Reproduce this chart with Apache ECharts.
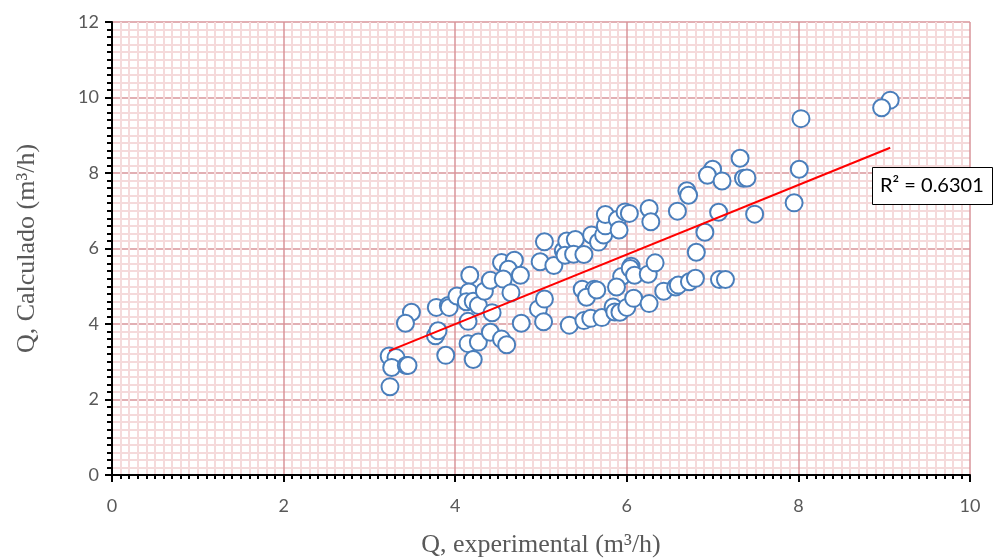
<!DOCTYPE html>
<html>
<head>
<meta charset="utf-8">
<script src="https://cdn.jsdelivr.net/npm/echarts@6/dist/echarts.min.js"></script>
<style>html,body{margin:0;padding:0;background:#fff}#c{width:996px;height:559px}</style>
</head>
<body>
<div id="c"></div>
<script>
// Q experimental (m3/h)
const qExp = [3.23,3.31,3.26,3.43,3.45,3.24,3.49,3.42,3.78,3.92,3.93,4.02,3.77,3.80,3.89,4.15,4.15,4.27,4.21,4.17,
  4.16,4.13,4.21,4.27,4.34,4.41,4.43,4.41,4.54,4.60,4.54,4.69,4.62,4.56,4.76,4.65,4.77,4.99,4.97,5.03,
  5.04,5.04,5.15,5.26,5.30,5.40,5.28,5.38,5.50,5.59,5.67,5.73,5.75,5.75,5.89,5.91,5.98,6.03,6.26,6.28,
  6.59,6.70,6.72,5.48,5.62,5.53,5.65,5.94,6.05,6.04,6.09,6.25,6.33,6.81,5.33,5.50,5.58,5.71,5.84,5.86,
  5.92,6.00,6.08,5.88,6.26,6.43,6.57,6.60,6.73,6.80,7.08,7.15,9.07,8.97,8.03,8.01,7.95,7.32,7.00,6.94,
  7.11,7.36,7.40,7.07,7.49,6.91];
// Q calculado (m3/h)
const qCalc = [3.15,3.11,2.85,2.90,2.90,2.34,4.31,4.02,4.44,4.49,4.44,4.74,3.69,3.82,3.17,4.07,3.48,3.52,3.06,5.29,
  4.85,4.59,4.60,4.49,4.87,5.16,4.30,3.78,3.60,3.45,5.63,5.69,5.45,5.19,5.29,4.83,4.02,5.65,4.40,4.06,
  6.18,4.66,5.55,5.94,6.20,6.24,5.82,5.85,5.84,6.36,6.17,6.36,6.60,6.90,6.77,6.49,6.97,6.93,7.06,6.71,
  6.99,7.53,7.41,4.92,4.92,4.71,4.90,5.26,5.53,5.47,5.29,5.32,5.62,5.90,3.97,4.09,4.15,4.17,4.45,4.32,
  4.31,4.44,4.68,4.98,4.54,4.87,4.98,5.03,5.12,5.21,5.18,5.18,9.93,9.73,9.44,8.10,7.21,8.39,8.10,7.94,
  7.79,7.86,7.87,6.96,6.91,6.43];
// linear trendline endpoints as drawn
const trendX = [3.23, 9.07];
const trendY = [3.29, 8.67];
const r2Label = 'R² = 0.6301';
const xTicks = [0,2,4,6,8,10];
const yTicks = [0,2,4,6,8,10,12];

const pts = qExp.map((x,i)=>[x,qCalc[i]]);
const trend = trendX.map((x,i)=>[x,trendY[i]]);

const chart = echarts.init(document.getElementById('c'), null, {renderer:'canvas'});
const gray = '#595959';
chart.setOption({
  animation:false,
  backgroundColor:'#fff',
  grid:{left:112,right:26,top:22,bottom:84,containLabel:false,outerBoundsMode:'none'},
  xAxis:{
    type:'value',min:xTicks[0],max:xTicks[xTicks.length-1],interval:2,
    name:'Q, experimental (m³/h)',nameLocation:'middle',nameGap:57,
    nameTextStyle:{fontFamily:'Liberation Serif',fontSize:26,color:gray},
    axisLine:{show:true,onZero:false,lineStyle:{color:'#000',width:2}},
    axisTick:{show:true,inside:false,length:7,lineStyle:{color:'#000',width:2}},
    minorTick:{show:true,splitNumber:20,length:4,lineStyle:{color:'#000',width:2}},
    axisLabel:{fontFamily:'Lato',fontSize:18,color:gray,margin:22},
    splitLine:{show:true,lineStyle:{color:'#d9959a',width:1.5}},
    minorSplitLine:{show:true,lineStyle:{color:'#f5dadb',width:2}}
  },
  yAxis:{
    type:'value',min:yTicks[0],max:yTicks[yTicks.length-1],interval:2,
    name:'Q, Calculado (m³/h)',nameLocation:'middle',nameGap:72,
    nameTextStyle:{fontFamily:'Liberation Serif',fontSize:26,color:gray},
    axisLine:{show:true,onZero:false,lineStyle:{color:'#000',width:2}},
    axisTick:{show:true,inside:false,length:7,lineStyle:{color:'#000',width:2}},
    minorTick:{show:true,splitNumber:10,length:5,lineStyle:{color:'#000',width:2}},
    axisLabel:{fontFamily:'Lato',fontSize:18,color:gray,margin:13},
    splitLine:{show:true,lineStyle:{color:'#d9959a',width:1.5}},
    minorSplitLine:{show:true,lineStyle:{color:'#f5dadb',width:2}}
  },
  series:[
    {type:'scatter',data:pts,symbol:'circle',symbolSize:17,z:3,
     itemStyle:{color:'#ffffff',borderColor:'#4a7ebb',borderWidth:2,opacity:1}},
    {type:'line',data:trend,showSymbol:false,symbol:'none',z:4,
     lineStyle:{color:'#ff0000',width:2},silent:true}
  ],
  graphic:[
    {type:'rect',shape:{x:872.5,y:167.5,width:120,height:37},
     style:{fill:'#fff',stroke:'#000',lineWidth:1},z:10},
    {type:'text',x:880,y:186,style:{text:r2Label,font:'20px Lato',fill:'#000',textVerticalAlign:'middle',verticalAlign:'middle'},z:11}
  ]
});
</script>
</body>
</html>
